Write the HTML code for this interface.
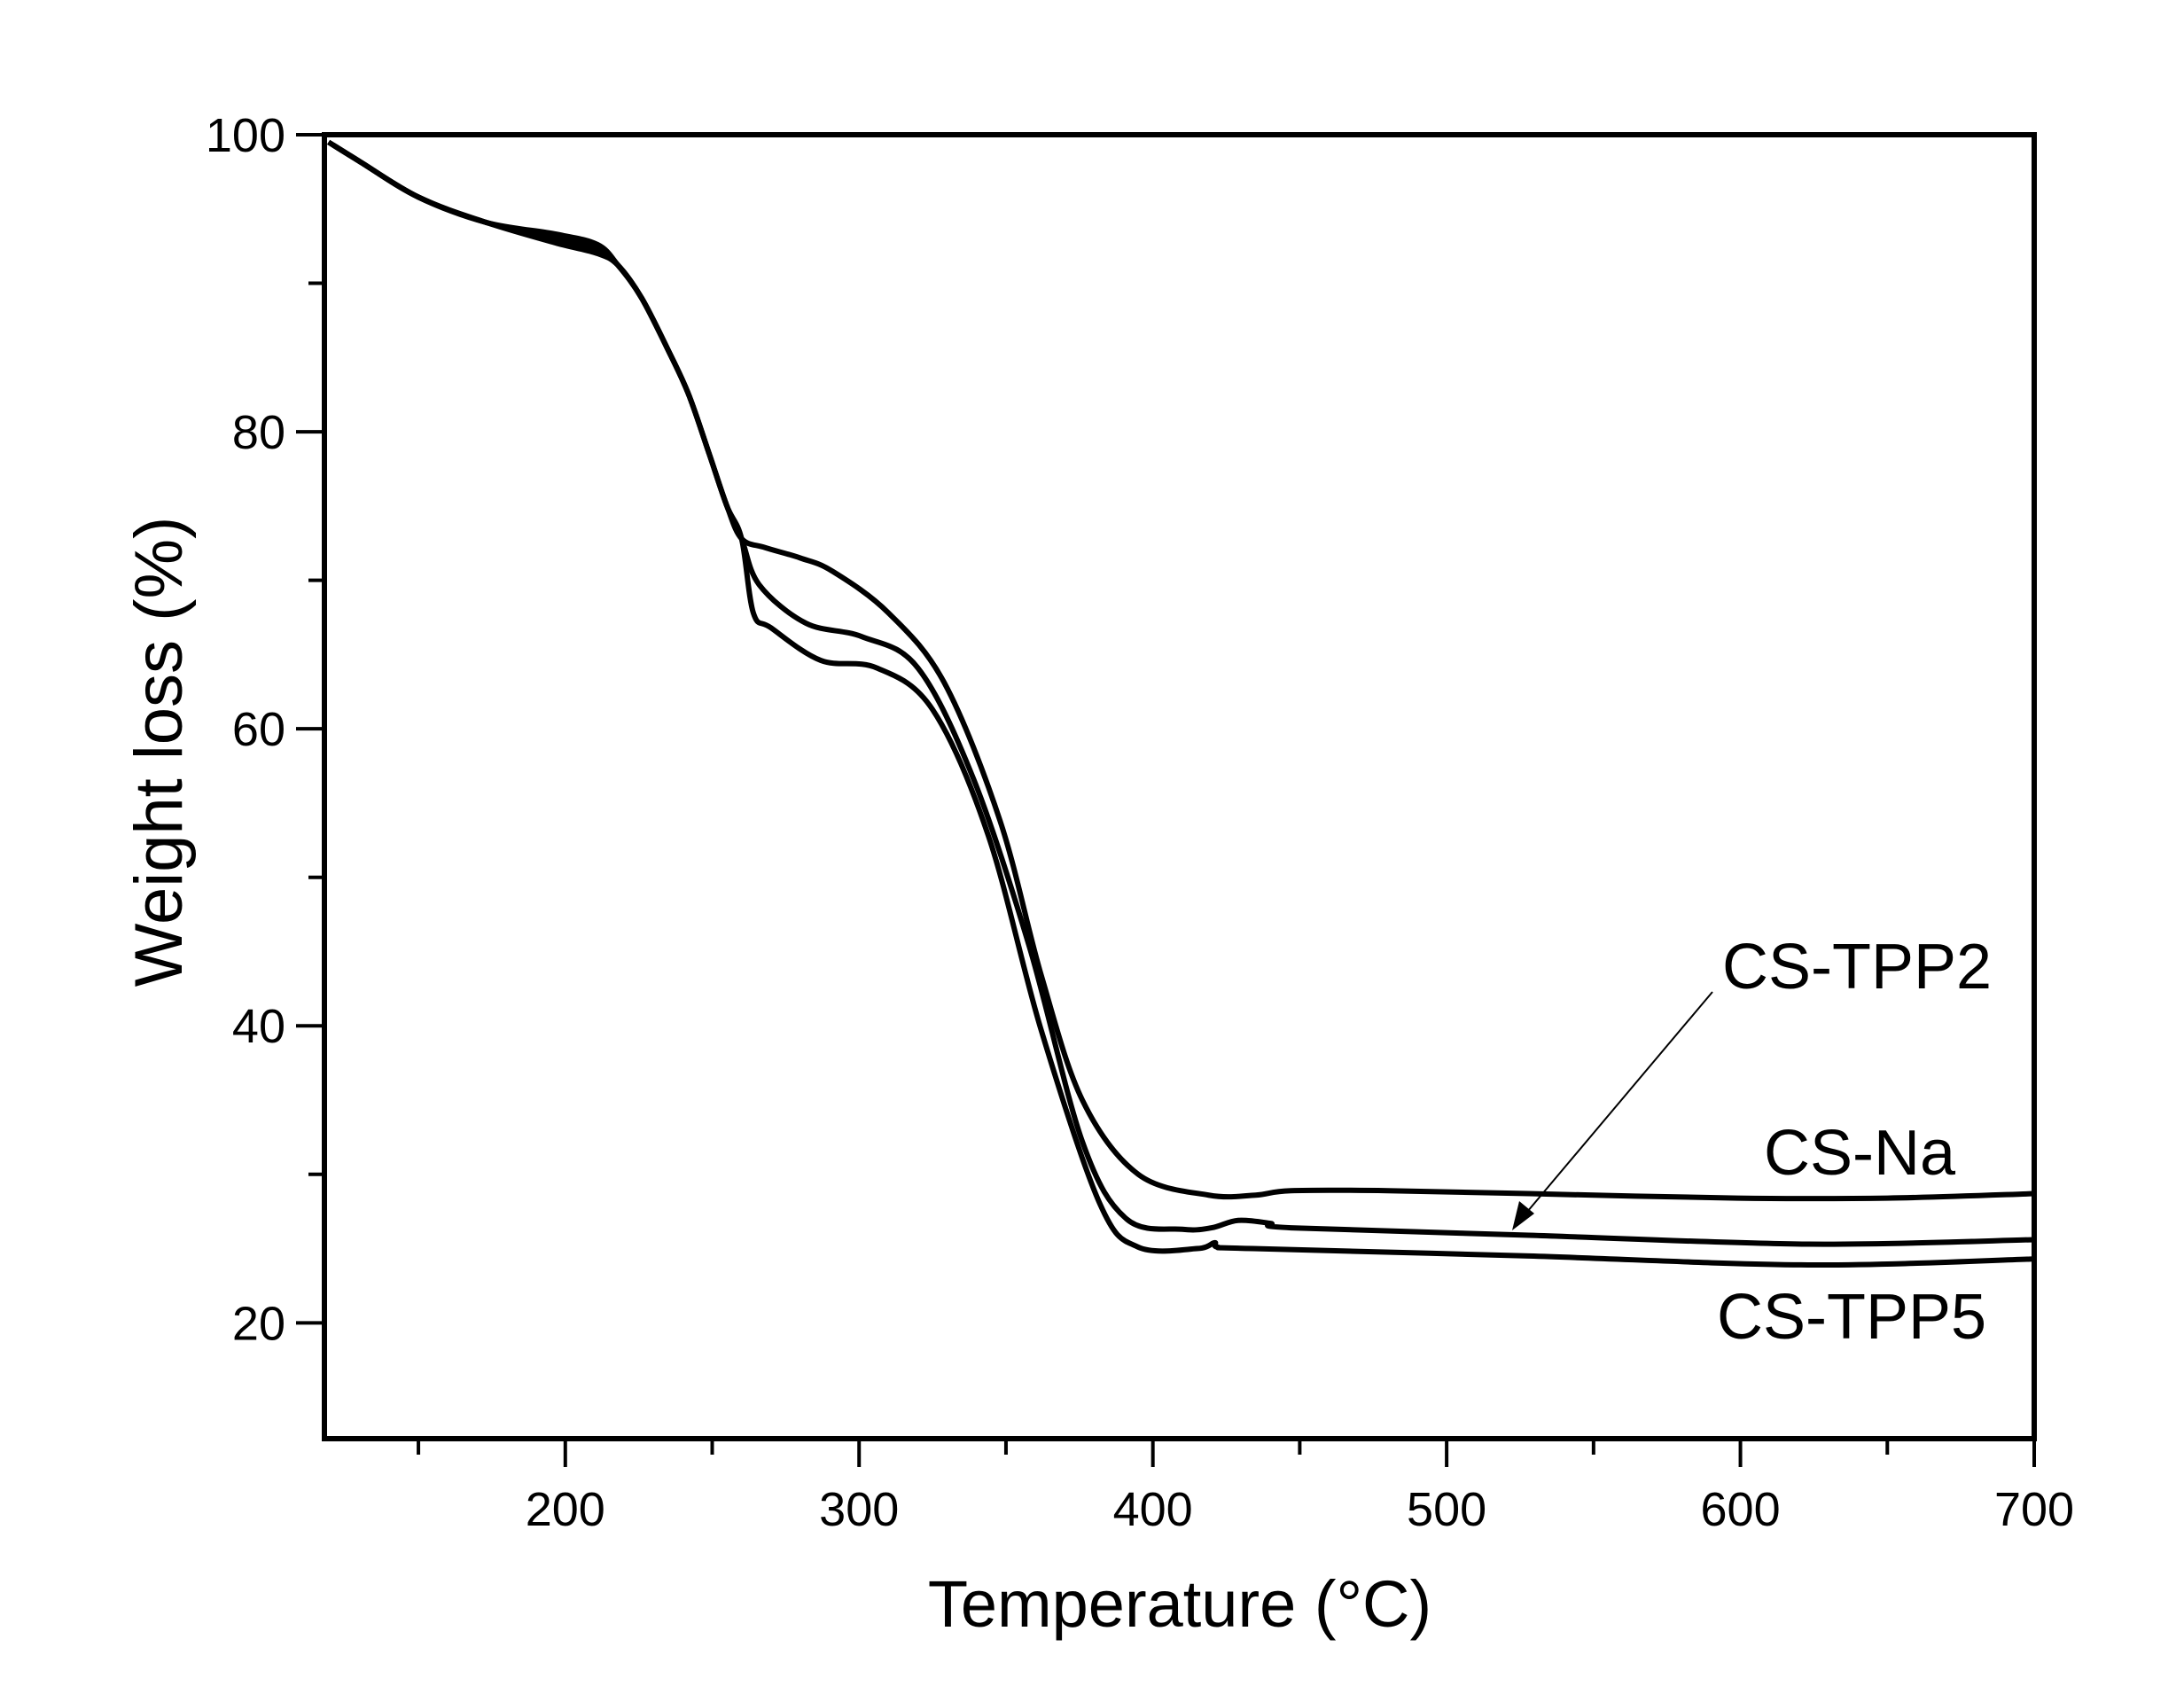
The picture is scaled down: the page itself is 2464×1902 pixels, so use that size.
<!DOCTYPE html>
<html><head><meta charset="utf-8"><style>
html,body{margin:0;padding:0;background:#fff;}
svg{display:block;}
text{font-family:"Liberation Sans",Arial,sans-serif;fill:#000;}
</style></head><body>
<svg id="chart" width="2464" height="1902" viewBox="0 0 2464 1902" xmlns="http://www.w3.org/2000/svg">
<g id="axes"></g>
<g id="series"></g>
<g id="annot">
<text x="1943" y="1115" font-size="72">CS-TPP2</text>
<text x="1990" y="1325" font-size="72">CS-Na</text>
<text x="1937" y="1510" font-size="72">CS-TPP5</text>
<line x1="1932" y1="1119" x2="1718" y2="1373" stroke="#000" stroke-width="2"/>
<polygon points="1706,1388 1714,1355 1731,1369" fill="#000"/>
<text x="1331" y="1835" font-size="74" text-anchor="middle">Temperature (°C)</text>
<text x="0" y="0" font-size="76" text-anchor="middle" transform="translate(205,848) rotate(-90)">Weight loss (%)</text>
</g>
</svg>
<script>
const xTicks=[200,300,400,500,600,700];
const xMinor=[150,250,350,450,550,650];
const yTicks=[20,40,60,80,100];
const yMinor=[30,50,70,90];
const common=[[119.4,99.5],[130,98.2],[150,95.8],[173,94.1],[197,93.0],[211,92.3],[218,91.2],[226,89.0],[235,85.5],[242,82.5],[249,78.5],[255,75.0],[260,72.8]];
const naT=[268,280,291,310,329,348,362,376,395,419,435,447,480,528,599,650,700];
const naW=[72.2,71.5,70.6,67.8,63.1,53.8,43.4,35.0,30.0,28.6,28.6,28.9,28.9,28.7,28.4,28.4,28.7];
const tpp2T=[266,282,301,320,339,358,376,391,410,420,429,440,447,528,623,700];
const tpp2W=[69.7,67.1,66.2,64.1,56.6,45.3,32.2,27.0,26.3,26.4,26.9,26.7,26.4,25.9,25.3,25.6];
const tpp5T=[264,270,287,306,325,344,362,382,395,415,421,422,434,528,623,700];
const tpp5W=[67.8,66.8,64.6,64.1,61.3,52.8,39.7,28.0,25.1,25.0,25.4,25.1,25.0,24.5,23.9,24.3];
const L=366,R=2295,T=152,B=1623,X0=118,X1=700,Y0=12.2,Y1=100;
const sx=v=>L+(v-X0)/(X1-X0)*(R-L);
const sy=v=>B-(v-Y0)/(Y1-Y0)*(B-T);
const NS="http://www.w3.org/2000/svg";
const axes=document.getElementById('axes'),ser=document.getElementById('series');
function mk(tag,attrs,parent){const e=document.createElementNS(NS,tag);for(const k in attrs)e.setAttribute(k,attrs[k]);parent.appendChild(e);return e;}
const fr=mk('rect',{x:L,y:T,width:R-L,height:B-T,fill:'none',stroke:'#000','stroke-width':6},axes);


xTicks.forEach(v=>{const l=mk('line',{x1:sx(v),x2:sx(v),y1:B,y2:B+32,stroke:'#000','stroke-width':4},axes);


const t=mk('text',{x:sx(v),y:B+98,'font-size':54,'text-anchor':'middle'},axes);t.textContent=v;

});
xMinor.forEach(v=>{const l=mk('line',{x1:sx(v),x2:sx(v),y1:B,y2:B+18,stroke:'#000','stroke-width':4},axes);

});
yTicks.forEach(v=>{const l=mk('line',{x1:L-32,x2:L,y1:sy(v),y2:sy(v),stroke:'#000','stroke-width':4},axes);


const t=mk('text',{x:L-44,y:sy(v)+19,'font-size':54,'text-anchor':'end'},axes);t.textContent=v;

});
yMinor.forEach(v=>{const l=mk('line',{x1:L-18,x2:L,y1:sy(v),y2:sy(v),stroke:'#000','stroke-width':4},axes);

});
function path(pts){const p=pts.map(d=>[sx(d[0]),sy(d[1])]);let s='M'+p[0][0]+','+p[0][1];
for(let i=0;i<p.length-1;i++){const a=p[Math.max(i-1,0)],b=p[i],c=p[i+1],d=p[Math.min(i+2,p.length-1)];
s+=' C'+(b[0]+(c[0]-a[0])/6)+','+(b[1]+(c[1]-a[1])/6)+' '+(c[0]-(d[0]-b[0])/6)+','+(c[1]-(d[1]-b[1])/6)+' '+c[0]+','+c[1];}return s;}
[['cs-na-line',naT,naW,0.3],['cs-tpp2-line',tpp2T,tpp2W,0],['cs-tpp5-line',tpp5T,tpp5W,-0.3]].forEach(([n,xs,ys,off])=>{
const pts=common.map(d=>[d[0],d[1]+(d[0]>190&&d[0]<215?off:0)]).concat(xs.map((x,i)=>[x,ys[i]]));
const e=mk('path',{d:path(pts),fill:'none',stroke:'#000','stroke-width':6,'stroke-linejoin':'round'},ser);

});
</script>
</body></html>
